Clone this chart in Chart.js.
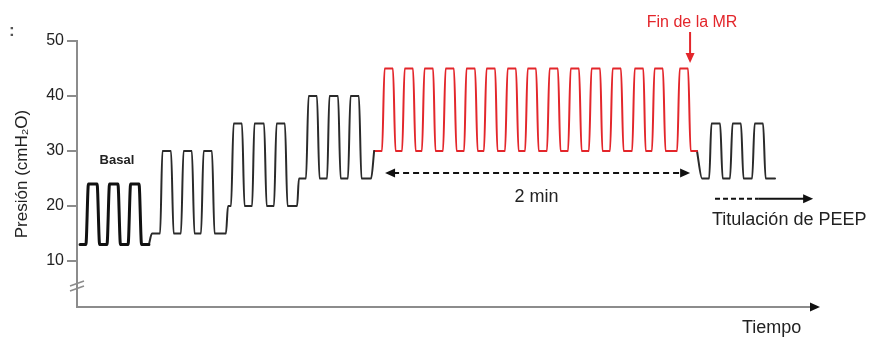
<!DOCTYPE html>
<html>
<head>
<meta charset="utf-8">
<script src="https://cdn.jsdelivr.net/npm/chart.js@4/dist/chart.umd.min.js"></script>
<style>
  html, body { margin: 0; padding: 0; background: #ffffff; }
  #wrap { width: 873px; height: 338px; }
</style>
</head>
<body>
<div id="wrap"><canvas id="c" width="873" height="338"></canvas></div>
<script>
// ---- Data (time in seconds, pressure in cmH2O) ----
const yTicks = [10, 20, 30, 40, 50];

// Basal ventilation
const basalT = [1.2, 3.5, 4.5, 7.9, 8.9, 11.8, 12.8, 16.1, 17.1, 20.1, 21.1, 24.4, 25.4, 28.3];
const basalP = [13, 13, 24, 24, 13, 13, 24, 24, 13, 13, 24, 24, 13, 13];

// Stepwise increase of PEEP / pressure (black)
const stepsT = [28.3, 29.5,
  32.7, 33.6, 37.0, 38.0, 40.9, 41.9, 45.2, 46.2, 48.8, 49.8, 53.1, 54.1, 58.6, 59.4,
  60.6, 61.6, 64.9, 65.9, 68.9, 69.8, 73.6, 74.6, 77.5, 78.5, 81.8, 82.8, 86.6, 87.3,
  90.1, 91.1, 94.4, 95.4, 98.4, 99.3, 102.7, 103.7, 106.6, 107.6, 110.9, 111.9, 115.7, 116.9];
const stepsP = [13, 15,
  15, 30, 30, 15, 15, 30, 30, 15, 15, 30, 30, 15, 15, 20,
  20, 35, 35, 20, 20, 35, 35, 20, 20, 35, 35, 20, 20, 25,
  25, 40, 40, 25, 25, 40, 40, 25, 25, 40, 40, 25, 25, 30];

// Recruitment manoeuvre (red, 2 min)
const mrT = [116.9,
  120.0, 121.0, 124.3, 125.3, 127.9, 128.9, 132.2, 133.2, 135.7, 136.7, 140.1, 141.0,
  144.0, 145.0, 148.3, 149.3, 152.3, 153.2, 156.6, 157.6, 160.1, 161.1, 164.5, 165.4,
  168.4, 169.4, 172.7, 173.7, 176.3, 177.3, 180.6, 181.6, 184.9, 185.9, 189.2, 190.2,
  193.2, 194.2, 197.5, 198.5, 201.4, 202.4, 205.8, 206.7, 209.7, 210.7, 214.0, 215.0,
  218.4, 219.4, 222.8, 223.7, 226.2, 227.2, 230.5, 231.5, 236.1, 237.1, 240.4, 241.4,
  243.9];
const mrP = [30,
  30, 45, 45, 30, 30, 45, 45, 30, 30, 45, 45, 30,
  30, 45, 45, 30, 30, 45, 45, 30, 30, 45, 45, 30,
  30, 45, 45, 30, 30, 45, 45, 30, 30, 45, 45, 30,
  30, 45, 45, 30, 30, 45, 45, 30, 30, 45, 45, 30,
  30, 45, 45, 30, 30, 45, 45, 30, 30, 45, 45, 30,
  30];

// PEEP titration (black)
const peepT = [243.9, 245.9, 248.7, 249.6, 253.0, 254.0, 256.9, 257.9, 261.2, 262.2, 265.6, 266.6, 269.9, 270.9, 274.6];
const peepP = [30, 25, 25, 35, 35, 25, 25, 35, 35, 25, 25, 35, 35, 25, 25];

// Annotation anchors (data units)
const mrSpan = [121.2, 241.2];   // "2 min"
const mrSpanLevel = 26;
const mrEnd = 240.4;              // "Fin de la MR"
const peepArrow = [251.0, 268.0, 289.6];
const peepArrowLevel = 21.3;

const xMin = 0, xMax = 292.3, yMin = 1.64, yMax = 50;

function pts(t, p) { return t.map((v, i) => ({ x: v, y: p[i] })); }

const FONT = "'Liberation Sans', Arial, Helvetica, sans-serif";

function arrowHead(ctx, x, y, dir, len, half) {
  ctx.beginPath();
  if (dir === 'right') { ctx.moveTo(x, y); ctx.lineTo(x - len, y - half); ctx.lineTo(x - len, y + half); }
  else if (dir === 'left') { ctx.moveTo(x, y); ctx.lineTo(x + len, y - half); ctx.lineTo(x + len, y + half); }
  else { ctx.moveTo(x, y); ctx.lineTo(x - half, y - len); ctx.lineTo(x + half, y - len); }
  ctx.closePath();
  ctx.fill();
}

const annot = {
  id: 'annot',
  afterDraw(chart) {
    const { ctx, chartArea: a, scales: { x, y } } = chart;
    ctx.save();
    // x axis with arrow
    ctx.strokeStyle = '#8c8c8c';
    ctx.lineWidth = 2;
    ctx.beginPath();
    ctx.moveTo(a.left - 1, a.bottom);
    ctx.lineTo(a.right - 8, a.bottom);
    ctx.stroke();
    ctx.fillStyle = '#111';
    arrowHead(ctx, a.right, a.bottom, 'right', 10, 4.5);

    // axis break marks
    ctx.strokeStyle = '#8c8c8c';
    ctx.lineWidth = 1.6;
    ctx.beginPath();
    ctx.moveTo(a.left - 7, a.bottom - 21); ctx.lineTo(a.left + 7, a.bottom - 26);
    ctx.moveTo(a.left - 7, a.bottom - 16); ctx.lineTo(a.left + 7, a.bottom - 21);
    ctx.stroke();

    // "2 min" dashed double arrow
    const y2 = y.getPixelForValue(mrSpanLevel);
    const x1 = x.getPixelForValue(mrSpan[0]);
    const x2 = x.getPixelForValue(mrSpan[1]);
    ctx.strokeStyle = '#111';
    ctx.fillStyle = '#111';
    ctx.lineWidth = 2;
    ctx.setLineDash([6, 4]);
    ctx.beginPath();
    ctx.moveTo(x1 + 8, y2); ctx.lineTo(x2 - 8, y2);
    ctx.stroke();
    ctx.setLineDash([]);
    arrowHead(ctx, x1, y2, 'left', 10, 4.5);
    arrowHead(ctx, x2, y2, 'right', 10, 4.5);
    ctx.font = '18px ' + FONT;
    ctx.fillStyle = '#222';
    ctx.textAlign = 'center';
    ctx.textBaseline = 'alphabetic';
    ctx.fillText('2 min', (x1 + x2) / 2 - 1, y2 + 29);

    // "Fin de la MR" red arrow + label
    const xe = x.getPixelForValue(mrEnd) + 2;
    ctx.strokeStyle = '#e3262b';
    ctx.fillStyle = '#e3262b';
    ctx.lineWidth = 2;
    ctx.beginPath();
    ctx.moveTo(xe, 32); ctx.lineTo(xe, 55);
    ctx.stroke();
    arrowHead(ctx, xe, 63, 'down', 10, 4.5);
    ctx.font = '16px ' + FONT;
    ctx.textAlign = 'center';
    ctx.fillText('Fin de la MR', xe + 2, 27);

    // PEEP titration arrow
    const yp = y.getPixelForValue(peepArrowLevel);
    const p0 = x.getPixelForValue(peepArrow[0]);
    const p1 = x.getPixelForValue(peepArrow[1]);
    const p2 = x.getPixelForValue(peepArrow[2]);
    ctx.strokeStyle = '#111';
    ctx.fillStyle = '#111';
    ctx.lineWidth = 2;
    ctx.setLineDash([5, 3]);
    ctx.beginPath();
    ctx.moveTo(p0, yp); ctx.lineTo(p1, yp);
    ctx.stroke();
    ctx.setLineDash([]);
    ctx.beginPath();
    ctx.moveTo(p1, yp); ctx.lineTo(p2 - 8, yp);
    ctx.stroke();
    arrowHead(ctx, p2, yp, 'right', 10, 4.5);
    ctx.font = '18px ' + FONT;
    ctx.fillStyle = '#222';
    ctx.textAlign = 'left';
    ctx.fillText('Titulación de PEEP', p0 - 3, yp + 26);

    // "Basal"
    ctx.font = 'bold 13px ' + FONT;
    ctx.textAlign = 'center';
    ctx.fillStyle = '#222';
    ctx.fillText('Basal', x.getPixelForValue(15.7), y.getPixelForValue(27.7));

    // "Tiempo"
    ctx.font = '18px ' + FONT;
    ctx.textAlign = 'left';
    ctx.fillText('Tiempo', 742, 333);

    // stray mark at top-left
    ctx.font = 'bold 17px ' + FONT;
    ctx.fillStyle = '#555';
    ctx.fillText(':', 9, 36);
    ctx.restore();
  }
};

const common = { pointRadius: 0, cubicInterpolationMode: 'monotone', fill: false, borderJoinStyle: 'round', borderCapStyle: 'round' };

new Chart(document.getElementById('c'), {
  type: 'line',
  data: {
    datasets: [
      Object.assign({ label: 'Basal', data: pts(basalT, basalP), borderColor: '#111111', borderWidth: 3 }, common),
      Object.assign({ label: 'Escalones', data: pts(stepsT, stepsP), borderColor: '#2a2a2a', borderWidth: 2 }, common),
      Object.assign({ label: 'MR', data: pts(mrT, mrP), borderColor: '#e3262b', borderWidth: 2 }, common),
      Object.assign({ label: 'PEEP', data: pts(peepT, peepP), borderColor: '#2a2a2a', borderWidth: 2 }, common)
    ]
  },
  options: {
    responsive: false,
    animation: false,
    events: [],
    layout: { padding: { top: 41, bottom: 31, left: 0, right: 53 } },
    plugins: { legend: { display: false }, tooltip: { enabled: false } },
    scales: {
      x: { type: 'linear', min: xMin, max: xMax, display: false },
      y: {
        type: 'linear', min: yMin, max: yMax,
        afterFit(scale) { scale.width = 77; },
        afterBuildTicks(scale) { scale.ticks = yTicks.map(v => ({ value: v })); },
        border: { display: true, color: '#8c8c8c', width: 2 },
        grid: { drawOnChartArea: false, drawTicks: true, tickLength: 10, color: '#8c8c8c', lineWidth: 2 },
        ticks: { color: '#222', padding: 3, font: { family: FONT, size: 16 } },
        title: { display: true, text: 'Presión (cmH₂O)', color: '#222', font: { family: FONT, size: 17 }, padding: { top: 12, bottom: 0 } }
      }
    }
  },
  plugins: [annot]
});
</script>
</body>
</html>
